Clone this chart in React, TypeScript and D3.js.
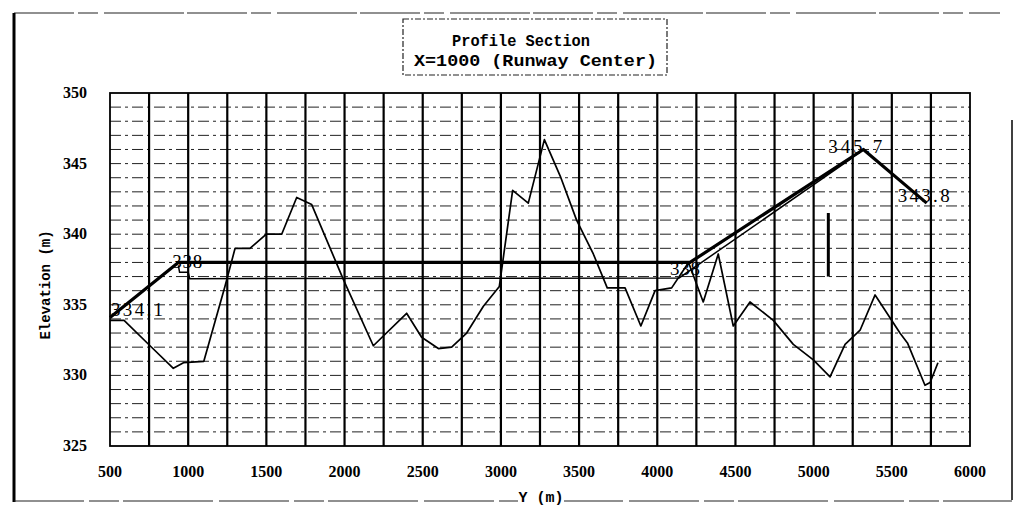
import React, { useEffect, useRef } from 'react';
import * as d3 from 'd3';

// terrain profile along the runway centre line
const GROUND_Y = [500, 590, 756, 905, 970, 1100, 1235, 1300, 1395, 1500, 1598, 1694, 1790, 1992, 2184, 2397, 2493, 2600, 2685, 2781, 2888, 2990, 3075, 3175, 3278, 3380, 3484, 3591, 3680, 3794, 3895, 3986, 4092, 4200, 4294, 4390, 4486, 4593, 4742, 4870, 4998, 5105, 5201, 5297, 5393, 5552, 5600, 5712, 5745, 5795];
const GROUND_Z = [333.9, 333.9, 332.1, 330.5, 330.9, 331.0, 336.3, 339.0, 339.0, 340.0, 340.0, 342.6, 342.1, 336.8, 332.1, 334.4, 332.7, 331.9, 332.0, 333.0, 334.9, 336.3, 343.1, 342.2, 346.7, 344.1, 341.0, 338.6, 336.2, 336.2, 333.5, 336.0, 336.2, 338.0, 335.2, 338.6, 333.5, 335.2, 333.9, 332.2, 331.1, 329.9, 332.2, 333.2, 335.7, 333.0, 332.3, 329.3, 329.5, 330.9];

// design grade line (thick)
const DESIGN_Y = [500, 937, 4209, 5318, 5723];
const DESIGN_Z = [334.1, 338.0, 338.0, 346.0, 342.2];
const DESIGN_LABELS = ['334.1', '338', '338', '345.7', '343.8'];

// lower formation line (thin)
const LOWER_Y = [937, 945, 1000, 1010, 4140, 5233, 5265, 5297];
const LOWER_Z = [337.8, 337.3, 337.3, 336.85, 336.9, 345.3, 345.6, 345.8];

// short vertical marker
const MARK_Y = [5094];
const MARK_Z0 = [341.5];
const MARK_Z1 = [337.0];

const X_TICKS = [500, 1000, 1500, 2000, 2500, 3000, 3500, 4000, 4500, 5000, 5500, 6000];
const Y_TICKS = [325, 330, 335, 340, 345, 350];

const TITLE_LINES = ['Profile Section', 'X=1000 (Runway Center)'];

const App = () => {
  const ref = useRef<SVGSVGElement | null>(null);

  useEffect(() => {
    const svg = d3.select(ref.current);
    svg.selectAll('*').remove();

    const left = 110;
    const right = 970;
    const top = 93;
    const bottom = 446;

    const x = d3.scaleLinear().domain([500, 6000]).range([left, right]);
    const y = d3.scaleLinear().domain([325, 350]).range([bottom, top]);

    const serif = '"Liberation Serif", "DejaVu Serif", serif';
    const mono = '"Liberation Mono", "DejaVu Sans Mono", monospace';

    svg.append('rect').attr('width', 1015).attr('height', 506).attr('fill', '#fff');

    // outer frame
    svg.append('line').attr('x1', 14).attr('x2', 1000).attr('y1', 13).attr('y2', 13)
      .attr('stroke', '#222').attr('stroke-width', 1.2).attr('stroke-dasharray', '60,4,20,6,80,3');
    svg.append('line').attr('x1', 14).attr('x2', 14).attr('y1', 13).attr('y2', 502)
      .attr('stroke', '#000').attr('stroke-width', 3);
    svg.append('line').attr('x1', 1012).attr('x2', 1012).attr('y1', 120).attr('y2', 500)
      .attr('stroke', '#000').attr('stroke-width', 1.5);
    svg.append('line').attr('x1', 14).attr('x2', 1012).attr('y1', 501).attr('y2', 501)
      .attr('stroke', '#222').attr('stroke-width', 1.2).attr('stroke-dasharray', '70,5,30,4,90,6');

    // horizontal dashed grid every metre
    const g = svg.append('g');
    g.selectAll('.hgrid')
      .data(d3.range(326, 350))
      .enter()
      .append('line')
      .attr('x1', left)
      .attr('x2', right)
      .attr('y1', (d) => y(d))
      .attr('y2', (d) => y(d))
      .attr('stroke', '#222')
      .attr('stroke-width', 1)
      .attr('stroke-dasharray', '11,4,3,4');

    // vertical grid every 250 m
    g.selectAll('.vgrid')
      .data(d3.range(750, 6000, 250))
      .enter()
      .append('line')
      .attr('x1', (d) => x(d))
      .attr('x2', (d) => x(d))
      .attr('y1', top)
      .attr('y2', bottom)
      .attr('stroke', '#000')
      .attr('stroke-width', 2.2);

    // plot border
    g.append('rect')
      .attr('x', left)
      .attr('y', top)
      .attr('width', right - left)
      .attr('height', bottom - top)
      .attr('fill', 'none')
      .attr('stroke', '#000')
      .attr('stroke-width', 1.8);

    const line = d3.line<[number, number]>().x((d) => x(d[0])).y((d) => y(d[1]));

    const ground = GROUND_Y.map((v, i) => [v, GROUND_Z[i]] as [number, number]);
    const design = DESIGN_Y.map((v, i) => [v, DESIGN_Z[i]] as [number, number]);
    const lower = LOWER_Y.map((v, i) => [v, LOWER_Z[i]] as [number, number]);

    g.append('path').attr('d', line(ground)).attr('fill', 'none')
      .attr('stroke', '#000').attr('stroke-width', 1.7).attr('stroke-linejoin', 'round');
    g.append('path').attr('d', line(lower)).attr('fill', 'none')
      .attr('stroke', '#000').attr('stroke-width', 1.5);
    g.append('path').attr('d', line(design)).attr('fill', 'none')
      .attr('stroke', '#000').attr('stroke-width', 3.2).attr('stroke-linejoin', 'round');

    g.selectAll('.mark')
      .data(MARK_Y)
      .enter()
      .append('line')
      .attr('x1', (d) => x(d))
      .attr('x2', (d) => x(d))
      .attr('y1', (d, i) => y(MARK_Z0[i]))
      .attr('y2', (d, i) => y(MARK_Z1[i]))
      .attr('stroke', '#000')
      .attr('stroke-width', 3);

    // labels at design vertices
    const labelShift = [[1, -2], [-6, 6], [-20, 13], [-35, 4], [-29, -1]];
    const labelWidth = [52, 30, 30, 54, 52];
    g.selectAll('.dlabel')
      .data(design)
      .enter()
      .append('text')
      .attr('x', (d, i) => x(d[0]) + labelShift[i][0])
      .attr('y', (d, i) => y(d[1]) + labelShift[i][1])
      .attr('textLength', (d, i) => labelWidth[i])
      .attr('lengthAdjust', 'spacing')
      .style('font-family', serif)
      .style('font-size', '19px')
      .style('fill', '#000')
      .text((d, i) => DESIGN_LABELS[i]);

    // axis tick labels
    svg.selectAll('.xt')
      .data(X_TICKS)
      .enter()
      .append('text')
      .attr('x', (d) => x(d))
      .attr('y', 477)
      .attr('text-anchor', 'middle')
      .style('font-family', serif)
      .style('font-weight', 'bold')
      .style('font-size', '16px')
      .text((d) => d);

    svg.selectAll('.yt')
      .data(Y_TICKS)
      .enter()
      .append('text')
      .attr('x', 87)
      .attr('y', (d) => y(d) + 5)
      .attr('text-anchor', 'end')
      .style('font-family', serif)
      .style('font-weight', 'bold')
      .style('font-size', '16px')
      .text((d) => d);

    // axis titles
    svg.append('text')
      .attr('transform', 'translate(50,285) rotate(-90)')
      .attr('text-anchor', 'middle')
      .style('font-family', mono)
      .style('font-weight', 'bold')
      .style('font-size', '14px')
      .text('Elevation (m)');

    svg.append('rect').attr('x', 518).attr('y', 490).attr('width', 46).attr('height', 14).attr('fill', '#fff');
    svg.append('text')
      .attr('x', 541)
      .attr('y', 502)
      .attr('text-anchor', 'middle')
      .style('font-family', mono)
      .style('font-weight', 'bold')
      .style('font-size', '15px')
      .text('Y (m)');

    // title box
    svg.append('rect')
      .attr('x', 403)
      .attr('y', 19)
      .attr('width', 264)
      .attr('height', 56)
      .attr('fill', '#fff')
      .attr('stroke', '#222')
      .attr('stroke-width', 1.2)
      .attr('stroke-dasharray', '6,2,2,2');

    const titleWidth = [138, 243];
    svg.selectAll('.title')
      .data(TITLE_LINES)
      .enter()
      .append('text')
      .attr('x', (d, i) => (i === 0 ? 452 : 414))
      .attr('y', (d, i) => (i === 0 ? 46 : 66))
      .attr('textLength', (d, i) => titleWidth[i])
      .attr('lengthAdjust', 'spacingAndGlyphs')
      .style('font-family', mono)
      .style('font-weight', 'bold')
      .style('font-size', '17px')
      .text((d) => d);
  }, []);

  return (
    <svg
      ref={ref}
      width={1015}
      height={506}
      style={{ position: 'absolute', left: 0, top: 0, background: '#fff' }}
    />
  );
};

export default App;
